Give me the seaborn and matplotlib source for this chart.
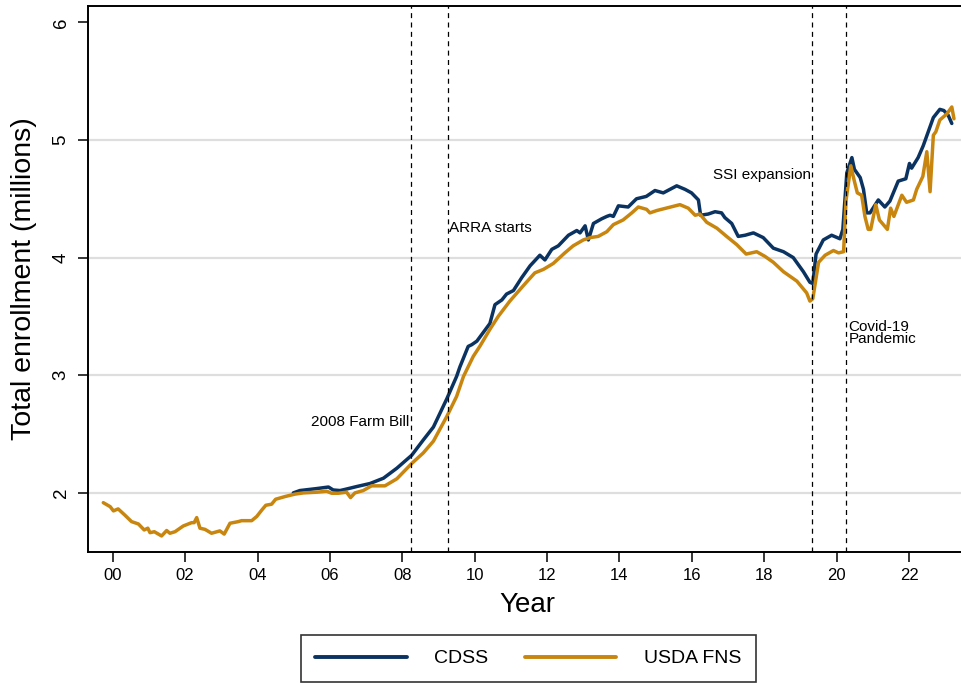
import numpy as np
import pandas as pd
import matplotlib
matplotlib.use("Agg")
import matplotlib.pyplot as plt
from matplotlib.lines import Line2D
import seaborn as sns

# ---- data (years since 2000, enrollment in millions) ----
usda_year = [-0.26, -0.07, 0.02, 0.15, 0.34, 0.52, 0.71, 0.87, 0.97, 1.03, 1.15, 1.35, 1.49, 1.58, 1.72,
             1.95, 2.18, 2.25, 2.32, 2.41, 2.55, 2.73, 2.96, 3.08, 3.24, 3.47, 3.56, 3.84, 3.98, 4.12,
             4.23, 4.39, 4.50, 4.76, 5.04, 5.27, 5.64, 5.91, 6.05, 6.23, 6.46, 6.57, 6.69, 6.92, 7.15,
             7.52, 7.85, 8.26, 8.58, 8.86, 9.23, 9.50, 9.69, 9.96, 10.15, 10.42, 10.65, 10.97, 11.34,
             11.66, 11.90, 12.17, 12.49, 12.72, 13.00, 13.19, 13.41, 13.65, 13.83, 14.10, 14.34, 14.52,
             14.75, 14.84, 15.03, 15.67, 15.90, 16.09, 16.22, 16.41, 16.69, 16.96, 17.24, 17.50, 17.79,
             18.02, 18.25, 18.53, 18.90, 19.17, 19.26, 19.34, 19.50, 19.68, 19.91, 20.05, 20.19, 20.26,
             20.39, 20.48, 20.57, 20.69, 20.78, 20.87, 20.94, 21.08, 21.18, 21.40, 21.49, 21.58, 21.80,
             21.93, 22.12, 22.21, 22.38, 22.49, 22.58, 22.67, 22.74, 22.85, 23.04, 23.18, 23.24]
usda_value = [1.917, 1.883, 1.847, 1.864, 1.81, 1.756, 1.736, 1.685, 1.70, 1.662, 1.67, 1.634, 1.68, 1.657, 1.67,
              1.719, 1.747, 1.747, 1.79, 1.70, 1.69, 1.657, 1.677, 1.65, 1.742, 1.756, 1.764, 1.764, 1.80, 1.855,
              1.895, 1.904, 1.946, 1.969, 1.99, 2.00, 2.006, 2.014, 1.997, 1.997, 2.006, 1.96, 2.00, 2.02, 2.06,
              2.06, 2.12, 2.25, 2.34, 2.44, 2.65, 2.82, 2.99, 3.16, 3.25, 3.39, 3.50, 3.63, 3.76,
              3.87, 3.90, 3.95, 4.04, 4.10, 4.15, 4.17, 4.18, 4.22, 4.28, 4.32, 4.38, 4.43,
              4.41, 4.38, 4.40, 4.45, 4.42, 4.36, 4.37, 4.30, 4.25, 4.18, 4.11, 4.03, 4.05,
              4.01, 3.96, 3.88, 3.80, 3.70, 3.63, 3.65, 3.96, 4.02, 4.06, 4.04, 4.05, 4.49,
              4.78, 4.66, 4.55, 4.53, 4.35, 4.24, 4.24, 4.45, 4.32, 4.24, 4.42, 4.35, 4.53,
              4.47, 4.49, 4.58, 4.69, 4.90, 4.56, 5.04, 5.07, 5.17, 5.22, 5.28, 5.18]

cdss_year = [4.99, 5.17, 5.64, 5.96, 6.09, 6.28, 6.42, 6.74, 7.11, 7.48, 7.85, 8.26, 8.58, 8.86, 9.23,
             9.50, 9.59, 9.82, 9.92, 10.06, 10.42, 10.56, 10.75, 10.88, 11.07, 11.30, 11.53, 11.71, 11.80,
             11.94, 12.13, 12.31, 12.59, 12.82, 12.91, 13.05, 13.14, 13.28, 13.51, 13.65, 13.74, 13.83,
             13.97, 14.24, 14.47, 14.74, 14.98, 15.21, 15.58, 15.81, 15.99, 16.18, 16.24, 16.45, 16.64,
             16.82, 16.91, 17.10, 17.28, 17.47, 17.70, 17.97, 18.25, 18.53, 18.80, 19.08, 19.26, 19.34,
             19.43, 19.63, 19.86, 20.09, 20.17, 20.28, 20.42, 20.49, 20.65, 20.74, 20.83, 20.92, 21.15,
             21.33, 21.47, 21.70, 21.91, 22.01, 22.07, 22.25, 22.39, 22.53, 22.67, 22.85, 22.96, 23.08, 23.18]
cdss_value = [2.00, 2.02, 2.037, 2.05, 2.025, 2.02, 2.03, 2.054, 2.08, 2.125, 2.21, 2.32, 2.45, 2.56, 2.80,
              2.99, 3.07, 3.245, 3.26, 3.29, 3.44, 3.60, 3.64, 3.69, 3.72, 3.83, 3.93, 3.99, 4.02,
              3.98, 4.07, 4.10, 4.19, 4.23, 4.21, 4.27, 4.15, 4.29, 4.33, 4.35, 4.36, 4.35,
              4.44, 4.43, 4.50, 4.52, 4.57, 4.55, 4.61, 4.58, 4.55, 4.49, 4.36, 4.37, 4.39,
              4.38, 4.34, 4.29, 4.18, 4.19, 4.21, 4.17, 4.08, 4.05, 4.00, 3.88, 3.79, 3.78,
              4.03, 4.15, 4.19, 4.16, 4.24, 4.72, 4.85, 4.75, 4.68, 4.58, 4.38, 4.38, 4.49,
              4.43, 4.48, 4.65, 4.67, 4.80, 4.76, 4.85, 4.95, 5.07, 5.19, 5.26, 5.25, 5.21, 5.14]

series_names = ["CDSS", "USDA FNS"]
x_ticks = [0, 2, 4, 6, 8, 10, 12, 14, 16, 18, 20, 22]
x_ticklabels = ["00", "02", "04", "06", "08", "10", "12", "14", "16", "18", "20", "22"]
y_ticks = [2, 3, 4, 5, 6]
grid_values = [2, 3, 4, 5]
event_years = [8.25, 9.25, 19.33, 20.25]

df = pd.concat([
    pd.DataFrame({"Year": cdss_year, "Enrollment": cdss_value, "Source": series_names[0]}),
    pd.DataFrame({"Year": usda_year, "Enrollment": usda_value, "Source": series_names[1]}),
], ignore_index=True)

sns.set_style("white")
plt.rcParams["font.family"] = ["Liberation Sans", "DejaVu Sans"]
plt.rcParams["text.color"] = "black"
plt.rcParams["axes.labelcolor"] = "black"
plt.rcParams["xtick.color"] = "black"
plt.rcParams["ytick.color"] = "black"

fig = plt.figure(figsize=(9.62, 6.83), dpi=100)
ax = fig.add_axes([0.0912, 0.1922, 0.914, 0.7986])

for g in grid_values:
    ax.axhline(g, color="#dedede", lw=1.6, zorder=0)

palette = {"CDSS": "#0b3361", "USDA FNS": "#c8860f"}
sns.lineplot(data=df, x="Year", y="Enrollment", hue="Source", hue_order=series_names,
             palette=palette, estimator=None, linewidth=2.5, ax=ax, legend=False, zorder=3)
for ev in event_years:
    ax.axvline(ev, color="black", lw=0.9, ls=(0, (4, 3.5)), zorder=4)

ax.set_xlim(-0.69, 23.6)
ax.set_ylim(1.5, 6.136)
ax.set_xticks(x_ticks)
ax.set_xticklabels(x_ticklabels)
ax.set_yticks(y_ticks)
ax.tick_params(axis="both", direction="out", length=7, width=1.1, color="black",
               labelcolor="black", bottom=True, left=True)
ax.tick_params(axis="x", pad=5, labelsize=12)
ax.tick_params(axis="y", pad=6, labelsize=13.5)
for lab in ax.get_yticklabels():
    lab.set_rotation(90)
    lab.set_va("center")

for side in ["left", "bottom", "top"]:
    ax.spines[side].set_visible(True)
    ax.spines[side].set_color("black")
    ax.spines[side].set_linewidth(1.4)
ax.spines["right"].set_visible(False)

ax.set_xlabel("Year", fontsize=20, labelpad=6)
ax.set_ylabel("Total enrollment (millions)", fontsize=20.5, labelpad=11)

ann = dict(fontsize=11, color="black", zorder=5)
ax.text(8.2, 2.60, "2008 Farm Bill", ha="right", va="center", **ann)
ax.text(9.3, 4.25, "ARRA starts", ha="left", va="center", **ann)
ax.text(19.28, 4.70, "SSI expansion", ha="right", va="center", **ann)
ax.text(20.32, 3.36, "Covid-19\nPandemic", ha="left", va="center", linespacing=0.8, **ann)

handles = [Line2D([0], [0], color=palette[n], lw=2.8) for n in series_names]
leg = fig.legend(handles, series_names, loc="lower center", bbox_to_anchor=(0.549, 0.0015),
                 ncol=2, fontsize=14, frameon=True, fancybox=False, edgecolor="black",
                 handlelength=4.7, columnspacing=1.9, handletextpad=1.4, borderpad=0.75,
                 borderaxespad=0)
leg.get_frame().set_linewidth(1.2)

fig.savefig("out.png", dpi=100)
